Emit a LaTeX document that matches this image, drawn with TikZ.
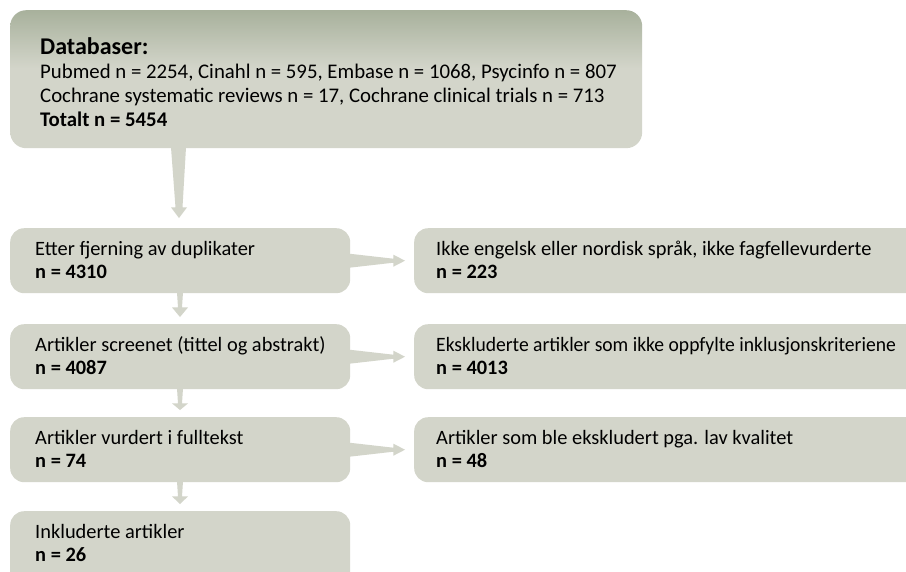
\documentclass[tikz,border=0pt]{standalone}
\usepackage{fontspec}
\usepackage{graphicx}
\setmainfont{Carlito}
\usetikzlibrary{calc}
\definecolor{boxfill}{HTML}{D3D5CA}
\definecolor{boxtop}{HTML}{A8B19C}
\definecolor{arrowfill}{HTML}{D3D5CA}
\pgfdeclareverticalshading{topshade}{100bp}{color(0bp)=(boxfill); color(25bp)=(boxfill); color(54bp)=(boxfill); color(75bp)=(boxtop); color(100bp)=(boxtop)}
\begin{document}
\begin{tikzpicture}[x=1pt,y=-1pt,
  box/.style={fill=boxfill, rounded corners=14pt, anchor=north west, inner sep=0pt, minimum width=#1, minimum height=65pt},
  topbox/.style={rounded corners=16pt, anchor=north west, inner sep=0pt, minimum width=632pt, minimum height=138pt,
     shading=topshade},
  txt/.style={anchor=base west, inner sep=0pt, font=\fontsize{20.4}{24}\selectfont},
  bld/.style={txt, font=\fontsize{20.4}{24}\selectfont\bfseries},
  toptxt/.style={anchor=base west, inner sep=0pt, font=\fontsize{20.8}{24}\selectfont},
  topbld/.style={toptxt, font=\fontsize{20.8}{24}\selectfont\bfseries},
  head/.style={anchor=base west, inner sep=0pt, font=\fontsize{24}{28}\selectfont\bfseries},
  arr/.style={fill=arrowfill, draw=none}]
\useasboundingbox (0,0) rectangle (906,571);
\clip (0,0) rectangle (906,571);
\fill[white] (0,0) rectangle (906,571);

% boxes
\node[topbox] (db) at (10,10) {};
\node[box=340pt] (b2) at (10,228) {};
\node[box=340pt] (b3) at (10,324) {};
\node[box=340pt] (b4) at (10,417) {};
\node[box=340pt, minimum height=80pt] (b5) at (10,511) {};
\node[box=510pt] (r2) at (414,228) {};
\node[box=510pt] (r3) at (414,324) {};
\node[box=510pt] (r4) at (414,417) {};

% texts
\node[head] (t0) at (40,54) {Databaser:};
\node[toptxt] (t1) at (40,78) {Pubmed n = 2254, Cinahl n = 595, Embase n = 1068, Psycinfo n = 807};
\node[toptxt] (t2) at (40,102) {Cochrane systematic reviews n = 17, Cochrane clinical trials n = 713};
\node[topbld] (t3) at (40,126) {Totalt n = 5454};

\node[txt] (b2a) at ($(b2.north west)+(25,27)$) {Etter fjerning av duplikater};
\node[bld] (b2b) at ($(b2.north west)+(25,50)$) {n = 4310};
\node[txt] (b3a) at ($(b3.north west)+(25,27)$) {Artikler screenet (tittel og abstrakt)};
\node[bld] (b3b) at ($(b3.north west)+(25,50)$) {n = 4087};
\node[txt] (b4a) at ($(b4.north west)+(25,27)$) {Artikler vurdert i fulltekst};
\node[bld] (b4b) at ($(b4.north west)+(25,50)$) {n = 74};
\node[txt] (b5a) at ($(b5.north west)+(25,27)$) {Inkluderte artikler};
\node[bld] (b5b) at ($(b5.north west)+(25,50)$) {n = 26};

\node[txt] (r2a) at ($(r2.north west)+(22,27)$) {Ikke engelsk eller nordisk språk, ikke fagfellevurderte};
\node[bld] (r2b) at ($(r2.north west)+(22,50)$) {n = 223};
\node[txt] (r3a) at ($(r3.north west)+(22,27)$) {\scalebox{0.96}[1]{Ekskluderte artikler som ikke oppfylte inklusjonskriteriene}};
\node[bld] (r3b) at ($(r3.north west)+(22,50)$) {n = 4013};
\node[txt] (r4a) at ($(r4.north west)+(22,27)$) {Artikler som ble ekskludert pga. lav kvalitet};
\node[bld] (r4b) at ($(r4.north west)+(22,50)$) {n = 48};

% big arrow from db to b2
\fill[arr] ($(db.south west)+(161,-1)$) -- ($(db.south west)+(165.5,59)$) -- ($(db.south west)+(161,59)$)
  -- ($(b2.north west)+(169,-10)$) -- ($(db.south west)+(177,59)$) -- ($(db.south west)+(172.5,59)$)
  -- ($(db.south west)+(176,-1)$) -- cycle;

% small vertical arrows
\foreach \a/\b in {b2/b3, b3/b4, b4/b5}{
  \fill[arr] ($(\a.south west)+(167,-1)$) -- ($(\a.south west)+(168,14)$) -- ($(\a.south west)+(162,14)$)
    -- ($(\b.north west)+(170,-7)$) -- ($(\a.south west)+(178,14)$) -- ($(\a.south west)+(172,14)$)
    -- ($(\a.south west)+(173,-1)$) -- cycle;
}

% horizontal arrows
\foreach \a/\b in {b2/r2, b3/r3, b4/r4}{
  \fill[arr] ($(\a.east)+(-1,-7)$) -- ($(\a.east)+(43,-2)$) -- ($(\a.east)+(43,-6)$)
    -- ($(\b.west)+(-9,0)$) -- ($(\a.east)+(43,6)$) -- ($(\a.east)+(43,2)$)
    -- ($(\a.east)+(-1,7)$) -- cycle;
}
\end{tikzpicture}
\end{document}
